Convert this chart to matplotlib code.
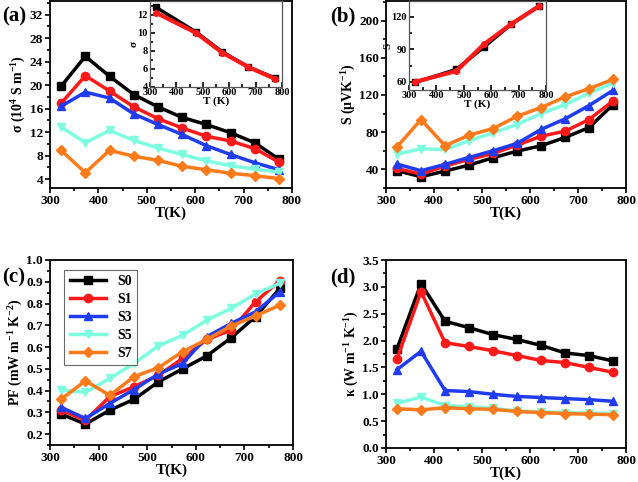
import numpy as np
import matplotlib
matplotlib.use("Agg")
import matplotlib.pyplot as plt
from matplotlib.ticker import AutoMinorLocator, MultipleLocator

plt.rcParams['font.family'] = ['Liberation Serif', 'DejaVu Serif']
plt.rcParams['font.weight'] = 'bold'
plt.rcParams['axes.labelweight'] = 'bold'
plt.rcParams['mathtext.fontset'] = 'custom'
plt.rcParams['mathtext.rm'] = 'Liberation Serif:bold'
plt.rcParams['mathtext.default'] = 'rm'

T = [323, 373, 423, 473, 523, 573, 623, 673, 723, 773]
labels = ["S0", "S1", "S3", "S5", "S7"]
colors = ["#000000", "#ff1a1a", "#1f3cf0", "#7ffde0", "#ff7a1a"]
markers = ["s", "o", "^", "v", "D"]

sigma = [
    [19.8, 24.9, 21.5, 18.4, 16.3, 14.5, 13.3, 11.9, 10.2, 7.4],
    [16.9, 21.6, 19.0, 16.3, 14.3, 12.7, 11.3, 10.5, 9.2, 6.9],
    [16.4, 18.8, 17.8, 15.1, 13.3, 11.6, 9.7, 8.2, 6.8, 5.6],
    [12.9, 10.2, 12.3, 10.6, 9.3, 8.2, 7.1, 6.3, 5.7, 5.2],
    [8.9, 5.1, 8.9, 7.9, 7.2, 6.2, 5.6, 5.0, 4.6, 4.1],
]
seebeck = [
    [38.6, 32.1, 38.2, 44.6, 52.5, 59.6, 65.4, 74.3, 85.0, 109.6],
    [41.0, 35.0, 43.6, 50.7, 57.1, 66.0, 75.7, 81.0, 93.6, 113.6],
    [45.7, 38.6, 45.4, 52.9, 60.0, 67.9, 82.9, 94.3, 108.6, 125.0],
    [56.4, 62.1, 61.4, 70.7, 79.3, 88.2, 100.0, 109.6, 122.0, 132.9],
    [64.3, 93.6, 65.4, 76.8, 83.9, 97.1, 106.4, 117.9, 126.8, 136.8],
]
pf = [
    [0.292, 0.246, 0.31, 0.36, 0.44, 0.50, 0.56, 0.643, 0.74, 0.87],
    [0.31, 0.264, 0.372, 0.418, 0.47, 0.548, 0.635, 0.678, 0.808, 0.905],
    [0.323, 0.272, 0.341, 0.405, 0.476, 0.525, 0.648, 0.709, 0.762, 0.854],
    [0.402, 0.392, 0.456, 0.525, 0.605, 0.654, 0.724, 0.778, 0.844, 0.893],
    [0.36, 0.445, 0.378, 0.464, 0.505, 0.579, 0.635, 0.697, 0.743, 0.793],
]
kappa = [
    [1.85, 3.06, 2.36, 2.24, 2.11, 2.02, 1.91, 1.77, 1.72, 1.62],
    [1.66, 2.91, 1.96, 1.89, 1.81, 1.72, 1.63, 1.59, 1.50, 1.41],
    [1.46, 1.80, 1.07, 1.05, 1.00, 0.96, 0.94, 0.92, 0.90, 0.87],
    [0.83, 0.95, 0.79, 0.77, 0.74, 0.69, 0.67, 0.66, 0.65, 0.64],
    [0.73, 0.71, 0.75, 0.73, 0.72, 0.68, 0.66, 0.64, 0.63, 0.62],
]

# insets: black and red only
T_in = [323, 473, 573, 673, 773]
sigma_in = [[12.8, 10.1, 7.9, 6.2, 5.0], [12.2, 10.0, 7.8, 6.2, 4.9]]
S_in = [[59.5, 71.5, 92.0, 113.0, 129.5], [60.0, 70.0, 94.5, 113.3, 129.5]]

W, H = 638, 482
fig = plt.figure(figsize=(W / 100, H / 100), dpi=100)


def box(left, top, right, bottom):
    return [left / W, 1 - bottom / H, (right - left) / W, (bottom - top) / H]


def style(ax, size=9.5):
    ax.tick_params(which='both', direction='out', labelsize=size, width=1.2, pad=1.5)
    ax.tick_params(which='major', length=3.5)
    ax.tick_params(which='minor', length=2)
    ax.xaxis.set_minor_locator(AutoMinorLocator(2))
    ax.yaxis.set_minor_locator(AutoMinorLocator(2))
    for s in ax.spines.values():
        s.set_linewidth(1.3)
    for t in ax.get_xticklabels() + ax.get_yticklabels():
        t.set_fontweight('bold')


def draw(ax, data, ms=6):
    for i in range(len(data)):
        ax.plot(T, data[i], color=colors[i], marker=markers[i], lw=2.5,
                ms=ms if markers[i] != "D" else ms - 1, label=labels[i])


def inset(ax, x, ys, ylim, step, ylab):
    ax.plot(x, ys[0], color="black", marker="s", lw=2.5, ms=4)
    ax.plot(x, ys[1], color=colors[1], marker="o", lw=3, ms=4)
    ax.set_xlim(300, 800)
    ax.set_ylim(*ylim)
    ax.xaxis.set_major_locator(MultipleLocator(100))
    ax.yaxis.set_major_locator(MultipleLocator(step))
    ax.set_xlabel("T (K)", fontsize=8, labelpad=-1)
    ax.set_ylabel(ylab, fontsize=8, labelpad=-1)
    style(ax, 7.5)
    ax.tick_params(which='both', direction='in', pad=1.5)
    ax.tick_params(axis='x', pad=1)
    for s in ax.spines.values():
        s.set_linewidth(0.9)
        s.set_color('#555555')


# (a)
ax = fig.add_axes(box(50, 1, 292, 188))
draw(ax, sigma)
ax.set_xlim(300, 800)
ax.set_ylim(2.5, 34.3)
ax.yaxis.set_major_locator(MultipleLocator(4))
ax.set_xlabel("T(K)", fontsize=11, labelpad=0)
ax.set_ylabel("σ (10$^{4}$ S m$^{-1}$)", fontsize=10, labelpad=1)
style(ax)
fig.text(2 / W, 1 - 16 / H, "(a)", fontsize=15, fontweight='bold', va='center')
inset(fig.add_axes(box(150, 1, 282, 87)), T_in, sigma_in, (4, 13.5), 2, "σ")

# (b)
ax = fig.add_axes(box(386, 1, 626, 188))
draw(ax, seebeck)
ax.set_xlim(300, 800)
ax.set_ylim(20, 221)
ax.yaxis.set_major_locator(MultipleLocator(40))
ax.set_xlabel("T(K)", fontsize=11, labelpad=0)
ax.set_ylabel("S (μVK$^{-1}$)", fontsize=10, labelpad=1)
style(ax)
fig.text(330 / W, 1 - 16 / H, "(b)", fontsize=15, fontweight='bold', va='center')
inset(fig.add_axes(box(409, 1, 546, 90)), T_in, S_in, (52.5, 134.5), 30, "S")

# (c)
ax = fig.add_axes(box(50, 260, 293, 445))
draw(ax, pf)
ax.set_xlim(300, 800)
ax.set_ylim(0.15, 1.0)
ax.yaxis.set_major_locator(MultipleLocator(0.1))
ax.set_xlabel("T(K)", fontsize=11, labelpad=0)
ax.set_ylabel("PF (mW m$^{-1}$ K$^{-2}$)", fontsize=10, labelpad=1)
style(ax)
leg = ax.legend(loc='upper left', fontsize=10, frameon=True, fancybox=False,
                edgecolor='#444444', handlelength=2.6, borderpad=0.4,
                labelspacing=0.35, bbox_to_anchor=(0.03, 0.985))
leg.get_frame().set_linewidth(0.8)
fig.text(2 / W, 1 - 277 / H, "(c)", fontsize=15, fontweight='bold', va='center')

# (d)
ax = fig.add_axes(box(386, 260, 626, 448))
draw(ax, kappa)
ax.set_xlim(300, 800)
ax.set_ylim(0, 3.5)
ax.yaxis.set_major_locator(MultipleLocator(0.5))
ax.set_xlabel("T(K)", fontsize=11, labelpad=0)
ax.set_ylabel("κ (W m$^{-1}$ K$^{-1}$)", fontsize=10, labelpad=1)
style(ax)
fig.text(330 / W, 1 - 277 / H, "(d)", fontsize=15, fontweight='bold', va='center')

fig.savefig("out.png", dpi=100)
